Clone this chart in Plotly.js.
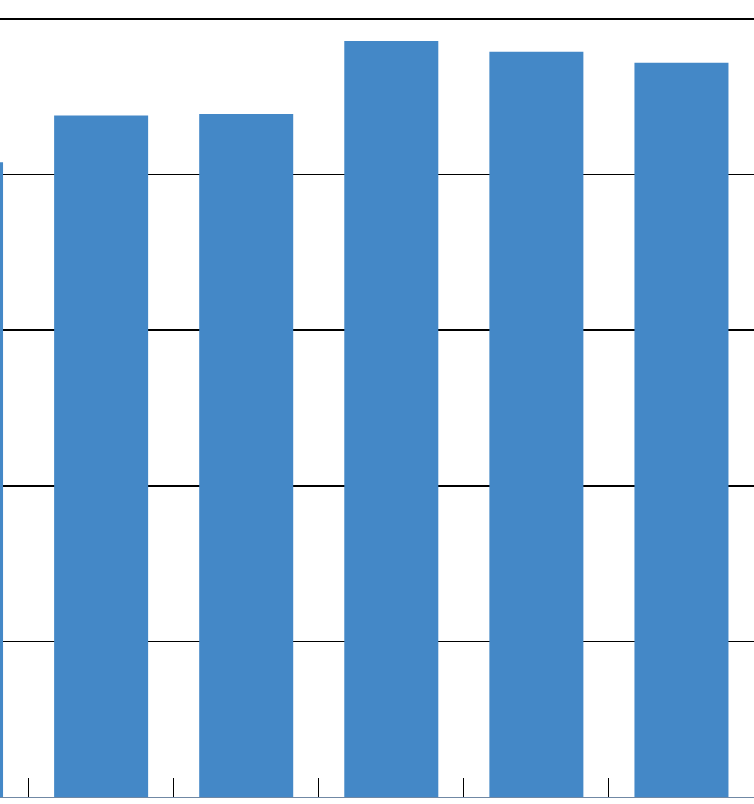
<!DOCTYPE html>
<html>
<head>
<meta charset="utf-8">
<script src="https://cdn.plot.ly/plotly-3.0.1.min.js"></script>
<style>
  html, body { margin: 0; padding: 0; background: #ffffff; }
  #graph { width: 754px; height: 804px; }
</style>
</head>
<body>
<div id="graph"></div>
<script>
// the picture is a crop: no labels are visible, so categories are placeholders
var categories = ['C0', 'C1', 'C2', 'C3', 'C4', 'C5'];
var values = [4.08, 4.38, 4.39, 4.86, 4.79, 4.72];
var yTicks = [0, 1, 2, 3, 4, 5];

var bars = {
    x: categories,
    y: values,
    type: 'bar',
    marker: { color: '#4488c7' },
    hoverinfo: 'none'
};

var layout = {
    width: 754,
    height: 804,
    margin: { l: 0, r: 0, t: 16, b: 7, pad: 0 },
    paper_bgcolor: '#ffffff',
    plot_bgcolor: '#ffffff',
    showlegend: false,
    bargap: 0.352,
    xaxis: {
        type: 'category',
        range: [0.303, 5.5],
        autorange: false,
        showticklabels: false,
        showgrid: false,
        zeroline: false,
        showline: true,
        linecolor: '#7088a4',
        linewidth: 1,
        ticks: 'inside',
        tickson: 'boundaries',
        ticklen: 19,
        tickwidth: 1,
        tickcolor: '#000000'
    },
    yaxis: {
        range: [0, 5.02],
        autorange: false,
        tickvals: yTicks,
        showticklabels: false,
        showgrid: true,
        gridcolor: '#000000',
        gridwidth: 1.6,
        zeroline: false,
        showline: false,
        ticks: ''
    }
};

Plotly.newPlot('graph', [bars], layout, { displayModeBar: false, staticPlot: true });
</script>
</body>
</html>
